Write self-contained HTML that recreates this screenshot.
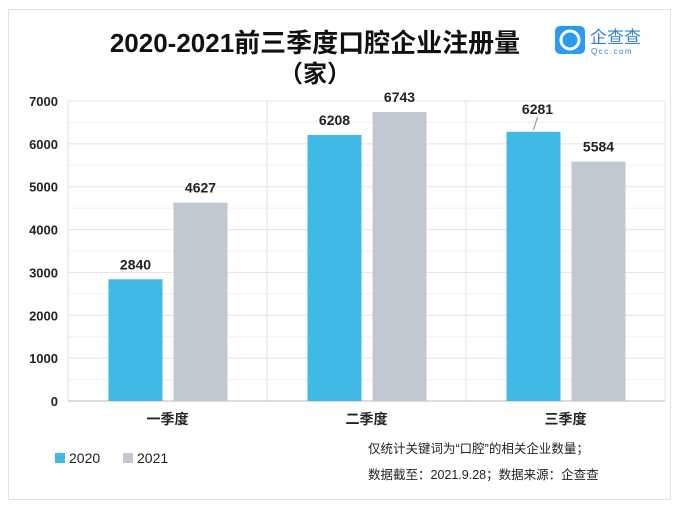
<!DOCTYPE html>
<html><head><meta charset="utf-8"><style>
body{margin:0;background:#fff;width:678px;height:511px;overflow:hidden;font-family:"Liberation Sans","Noto Sans CJK SC",sans-serif}
#frame{position:absolute;left:8px;top:9px;width:663px;height:491px;border:1px solid #e2e2e2;box-sizing:border-box}
</style></head><body>
<div id="frame"></div>
<svg width="678" height="511" style="position:absolute;left:0;top:0">
<text x="315" y="52" text-anchor="middle" font-size="26" font-weight="bold" fill="#111">2020-2021前三季度口腔企业注册量</text>
<text x="315" y="82" text-anchor="middle" font-size="24" font-weight="bold" fill="#111">（家）</text>
<g>
<rect x="555" y="26" width="30" height="28" rx="5" fill="#2a9bf0"/>
<circle cx="570" cy="40" r="9" fill="none" stroke="#fff" stroke-width="3"/>
<text x="590" y="43" font-size="17" fill="#3a7fd0">企查查</text>
<text x="591" y="54" font-size="8" fill="#3a7fd0" letter-spacing="1.5">Qcc.com</text>
</g>
<g id="grid"></g><g id="bars"></g><g id="labels"></g>
<g>
<rect x="55" y="453" width="10" height="10" fill="#40b9e6"/>
<text x="69" y="463" font-size="14" fill="#222">2020</text>
<rect x="123" y="453" width="10" height="10" fill="#c2c8d0"/>
<text x="137" y="463" font-size="14" fill="#222">2021</text>
</g>
<text x="368" y="453" font-size="12.5" fill="#222">仅统计关键词为“口腔”的相关企业数量；</text>
<text x="368" y="479" font-size="12.5" fill="#222">数据截至：2021.9.28；数据来源：企查查</text>
</svg>
<script>
const categories=["一季度","二季度","三季度"];
const series2020=[2840,6208,6281];
const series2021=[4627,6743,5584];
const ticks=[0,1000,2000,3000,4000,5000,6000,7000];
const NS="http://www.w3.org/2000/svg";
const X0=68,X1=665,Y0=401,Y7=101,MAX=7000;
const y=v=>Y0-(v/MAX)*(Y0-Y7);
const gw=(X1-X0)/categories.length;
function mk(p,t,a){const e=document.createElementNS(NS,t);for(const k in a)e.setAttribute(k,a[k]);p.appendChild(e);return e;}
const grid=document.getElementById('grid'),bars=document.getElementById('bars'),labels=document.getElementById('labels');
for(let v=0;v<=MAX;v+=500){const l=mk(grid,'line',{x1:X0,x2:X1,y1:y(v),y2:y(v),stroke:v%1000?'#f0f0f0':'#e3e3e3','stroke-width':1});

}
ticks.forEach(v=>{const t=mk(grid,'text',{x:58,y:y(v)+5,'text-anchor':'end','font-size':13,'font-weight':'bold',fill:'#222'});t.textContent=v;

});
for(let i=0;i<=categories.length;i++){const l=mk(grid,'line',{x1:X0+gw*i,x2:X0+gw*i,y1:Y7,y2:Y0,stroke:'#e3e3e3'});

}
const ax=mk(grid,'line',{x1:X0,x2:X1,y1:Y0,y2:Y0,stroke:'#d0d0d0','stroke-width':1.5});


categories.forEach((c,i)=>{const cx=X0+gw*(i+0.5);
[[series2020,'#40b9e6',-59,'2020'],[series2021,'#c2c8d0',6,'2021']].forEach(([s,col,off,nm])=>{
const r=mk(bars,'rect',{x:cx+off,y:y(s[i]),width:54,height:Y0-y(s[i]),fill:col});


let ly=y(s[i])-10;
if(nm==='2020'&&i===2){ly=y(s[i])-18;mk(labels,'line',{x1:cx+off+27,y1:y(s[i])-2,x2:cx+off+31,y2:ly+3,stroke:'#888'});}
const t=mk(labels,'text',{x:cx+off+27+(nm==='2020'&&i===2?4:0),y:ly,'text-anchor':'middle','font-size':14,'font-weight':'bold',fill:'#222'});t.textContent=s[i];

});
const t=mk(labels,'text',{x:cx,y:424,'text-anchor':'middle','font-size':14,'font-weight':'bold',fill:'#222'});t.textContent=c;

});
</script>
</body></html>
